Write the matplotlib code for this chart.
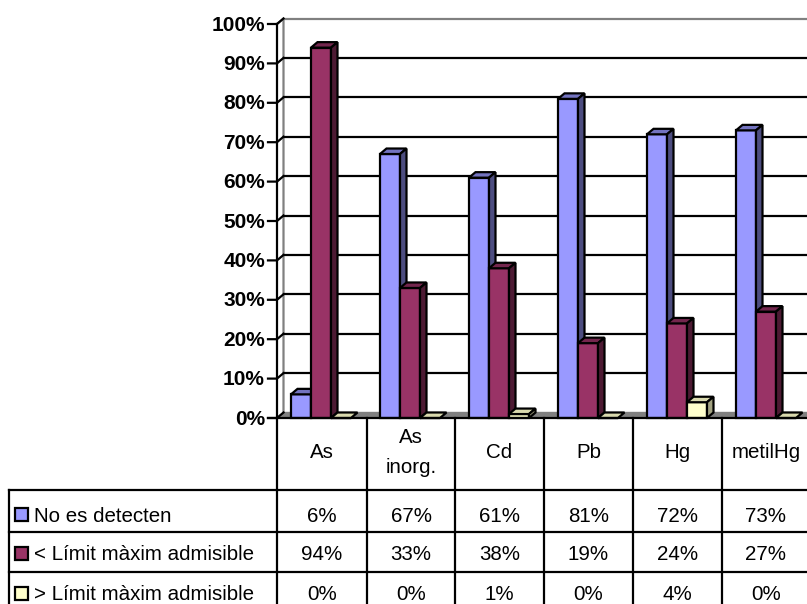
import matplotlib.pyplot as plt
from matplotlib.patches import Polygon, Rectangle

plt.rcParams['font.family'] = ['Liberation Sans', 'DejaVu Sans']

# Data
categories = ['As', 'As\ninorg.', 'Cd', 'Pb', 'Hg', 'metilHg']
series_names = ['No es detecten', '< Límit màxim admisible', '> Límit màxim admisible']
no_detect = [6, 67, 61, 81, 72, 73]
below_limit = [94, 33, 38, 19, 24, 27]
above_limit = [0, 0, 1, 0, 4, 0]
y_ticks = [0, 10, 20, 30, 40, 50, 60, 70, 80, 90, 100]

series_values = [no_detect, below_limit, above_limit]
front_colors = ['#9999FF', '#993366', '#FFFFCC']
top_colors = ['#7373BF', '#73264D', '#D9D9AD']
side_colors = ['#4D4D80', '#4D1A33', '#A3A382']

# Pixel layout of the front plane
W, H = 807, 604
left_px, right_px, base_px, top_px = 277, 807, 418, 24
cat_px = 89.0
val_px = (base_px - top_px) / 100
dx = 6.5 / cat_px      # depth in x data units
dy = 5.5 / val_px      # depth in y data units
lw = 1.6

fig = plt.figure(figsize=(W / 100, H / 100), dpi=100)
ax = fig.add_axes([left_px / W, 1 - base_px / H, (right_px - left_px) / W, (base_px - top_px) / H])
ax.set_xlim(0, (right_px - left_px) / cat_px)
ax.set_ylim(0, 100)
ax.axis('off')
x_max = ax.get_xlim()[1]


def px_x(x):
    return (x - left_px) / cat_px


def px_y(y):
    return (base_px - y) / val_px


# Walls and floor
ax.add_patch(Polygon([(0, 0), (dx, dy), (x_max, dy), (x_max, 0)], fc='#808080', ec='#808080', lw=1, zorder=1))
ax.plot([0, dx, dx], [100, 100 + dy, 0 + dy], color='#808080', lw=lw, zorder=1, clip_on=False)
ax.plot([dx, x_max], [100 + dy, 100 + dy], color='#808080', lw=lw, zorder=1, clip_on=False)
ax.plot([0, 0], [0, 100], color='black', lw=lw, zorder=2, clip_on=False)

for t in y_ticks:
    if t > 0 and t < 100:
        ax.plot([dx, x_max], [t + dy, t + dy], color='black', lw=lw, zorder=1)
    ax.plot([-9 / cat_px, 0, dx], [t, t, t + dy], color='black', lw=lw, zorder=2, clip_on=False,
            solid_joinstyle='miter')
    ax.text(-12 / cat_px, t + 0.25, f'{t}%', ha='right', va='center_baseline', fontsize=15,
            fontweight='bold', zorder=3)

# Bars, one series after the other within each category
bar_w = 20 / cat_px
first = 14 / cat_px
z = 3
for i in range(len(categories)):
    for s, values in enumerate(series_values):
        x0 = i + first + s * bar_w
        v = values[i]
        ax.bar(x0, v, bar_w, align='edge', color=front_colors[s], edgecolor='black', linewidth=lw,
               zorder=z, clip_on=False)
        top = [(x0, v), (x0 + dx, v + dy), (x0 + bar_w + dx, v + dy), (x0 + bar_w, v)]
        ax.add_patch(Polygon(top, fc=top_colors[s], ec='black', lw=lw, zorder=z, clip_on=False,
                             joinstyle='miter'))
        if v > 0:
            side = [(x0 + bar_w, 0), (x0 + bar_w + dx, dy), (x0 + bar_w + dx, v + dy), (x0 + bar_w, v)]
            ax.add_patch(Polygon(side, fc=side_colors[s], ec='black', lw=lw, zorder=z, clip_on=False,
                                 joinstyle='miter'))
        z += 0.1

# Data table below the chart
z = 20
col_edges = [277, 367, 455, 544, 633, 722]
row_lines = [490, 532, 572]
row_centers = [514, 553, 593]
ax.plot([-9 / cat_px, x_max], [0, 0], color='black', lw=lw, zorder=z, clip_on=False)
for x in col_edges:
    ax.plot([px_x(x), px_x(x)], [0, px_y(604)], color='black', lw=lw, zorder=z, clip_on=False)
for y in row_lines:
    ax.plot([px_x(9), x_max], [px_y(y), px_y(y)], color='black', lw=lw, zorder=z, clip_on=False)
ax.plot([px_x(9), px_x(9)], [px_y(490), px_y(604)], color='black', lw=lw, zorder=z, clip_on=False)

col_centers = [322, 411, 499.5, 588.5, 677.5, 766]
for i, name in enumerate(categories):
    ax.text(px_x(col_centers[i]), px_y(452.5), name, ha='center', va='center', fontsize=14.8,
            linespacing=1.75, zorder=z, clip_on=False)

for s, name in enumerate(series_names):
    yc = row_centers[s]
    ax.add_patch(Rectangle((px_x(15), px_y(yc + 6.5)), 13 / cat_px, 13 / val_px, fc=front_colors[s],
                           ec='black', lw=lw, zorder=z, clip_on=False))
    ax.text(px_x(34), px_y(yc), name, ha='left', va='center_baseline', fontsize=14.8, zorder=z, clip_on=False)
    for i, v in enumerate(series_values[s]):
        ax.text(px_x(col_centers[i]), px_y(yc), f'{v}%', ha='center', va='center_baseline', fontsize=14.8,
                zorder=z, clip_on=False)

fig.savefig('out.png', dpi=100)
